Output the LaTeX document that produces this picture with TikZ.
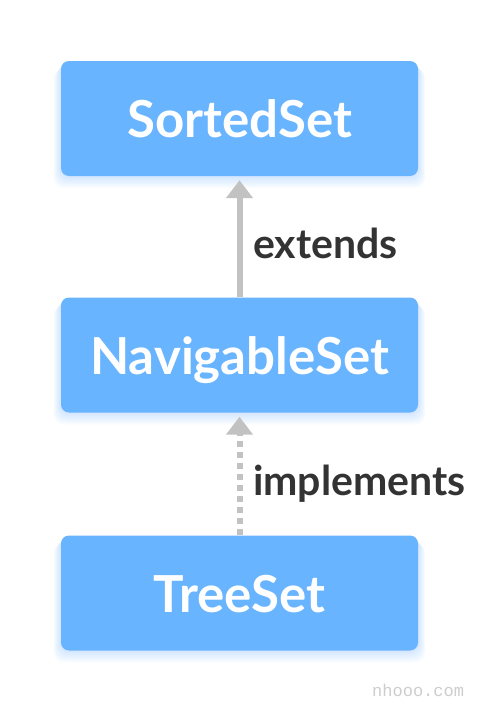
\documentclass[tikz,border=0pt]{standalone}
\usepackage{fontspec}
\setmainfont{Lato}
\newfontfamily\wmfont{Liberation Mono}
\usetikzlibrary{arrows.meta}
\definecolor{boxblue}{HTML}{69B4FF}
\definecolor{arrgray}{HTML}{C2C2C2}
\definecolor{labgray}{HTML}{333333}
\definecolor{wmgray}{HTML}{CDCDCD}
\tikzset{
  setbox/.style={fill=boxblue, rounded corners=8pt, minimum width=357pt, minimum height=115pt, inner sep=0pt},
  boxtext/.style={anchor=base, text=white, font=\fontsize{51}{60}\selectfont\bfseries, inner sep=0pt},
  labtext/.style={anchor=base west, text=labgray, font=\fontsize{41}{48}\selectfont\bfseries, inner sep=0pt},
  arr/.style={draw=arrgray, line width=6pt, -{Triangle[width=26pt,length=18pt]}, shorten >=4pt},
  dotarr/.style={arr, dash pattern=on 6pt off 5pt},
}
\newcommand{\softshadow}[1]{%
  \foreach \i in {1,...,12}{
    \fill[boxblue, opacity=0.022, rounded corners=10pt]
      ([xshift=-\i*0.6pt, yshift=-\i*1.0pt]#1.south west) rectangle ([xshift=\i*0.6pt, yshift=-\i*1.0pt+\i*0.3pt]#1.north east);
  }}
\begin{document}
\begin{tikzpicture}[x=1pt,y=-1pt]
\useasboundingbox (0,0) rectangle (480,712);
\fill[white] (0,0) rectangle (480,712);
\coordinate (c1) at (239.5,118.5);
\coordinate (c2) at (239.5,355);
\coordinate (c3) at (239.5,593);
\path (c1) node[inner sep=0, minimum width=357pt, minimum height=115pt] (s1) {};
\path (c2) node[inner sep=0, minimum width=357pt, minimum height=115pt] (s2) {};
\path (c3) node[inner sep=0, minimum width=357pt, minimum height=115pt] (s3) {};
\softshadow{s1}
\softshadow{s2}
\softshadow{s3}
\node[setbox] (b1) at (c1) {};
\node[setbox] (b2) at (c2) {};
\node[setbox] (b3) at (c3) {};
\node[boxtext] (t1) at (239.5,137) {SortedSet};
\node[boxtext] (t2) at (239.5,374) {NavigableSet};
\node[boxtext] (t3) at (239.5,612) {TreeSet};
\draw[arr] (b2.north) -- (b1.south);
\draw[dotarr] (b3.north) -- (b2.south);
\node[labtext] (l1) at (253,258) {extends};
\node[labtext] (l2) at (253,495) {implements};
\node[anchor=base west, text=wmgray, font=\wmfont\fontsize{17}{20}\selectfont, inner sep=0pt] (wm) at (372,696) {nhooo.com};
\end{tikzpicture}
\end{document}
